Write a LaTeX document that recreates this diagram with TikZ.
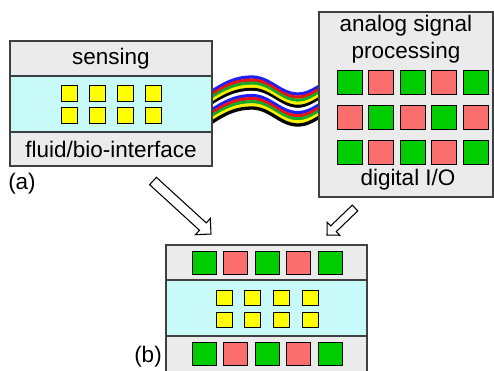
\documentclass[tikz,border=0pt]{standalone}
\usepackage{fontspec}
\setmainfont{Liberation Sans}
\usetikzlibrary{calc}

\definecolor{bandgray}{RGB}{235,235,235}
\definecolor{bandcyan}{RGB}{200,250,250}
\definecolor{padgreen}{RGB}{0,205,0}
\definecolor{padred}{RGB}{250,110,110}
\definecolor{padyellow}{RGB}{255,255,0}
\definecolor{wireblue}{RGB}{30,30,245}
\definecolor{wirered}{RGB}{235,20,20}
\definecolor{wiregreen}{RGB}{20,170,40}
\definecolor{wireyellow}{RGB}{250,240,0}

\tikzset{
  band/.style={draw=black!75, line width=0.6pt},
  pad/.style={draw=black, line width=0.5pt},
  boxtext/.style={font=\fontsize{12.8}{15.3}\selectfont, inner sep=0pt, align=center},
}

% hollow arrow: tail, tip, half shaft width, half head width
\newcommand{\hollowarrow}[4]{%
  \coordinate (hb) at ($(#2)!#4!(#1)$);
  \draw[black, line width=0.6pt, fill=white, line join=miter]
    ($(#1)!#3!90:(#2)$) -- ($(hb)!#3!90:(#2)$) -- ($(hb)!#4!90:(#2)$) -- (#2)
    -- ($(hb)!#4!-90:(#2)$) -- ($(hb)!#3!-90:(#2)$) -- ($(#1)!#3!-90:(#2)$) -- cycle;}

\begin{document}
\begin{tikzpicture}[x=0.02cm, y=-0.02cm]
  \useasboundingbox (0,0) rectangle (494,370);

  % wire bundle
  \foreach \c [count=\i from 0] in {wireblue,wirered,wiregreen,wireyellow,black,white,wireblue,wirered,wiregreen,wireyellow,black}
    \draw[\c, line width=0.66mm, shift={(0,\i*3.1)}]
      (205,96) .. controls (226,81) and (238,77) .. (252,77)
      .. controls (270,77) and (280,94) .. (298,94)
      .. controls (308,94) and (316,88) .. (326,82);

  % (a) sensing die
  \draw[band, fill=bandgray] (10,41) rectangle (212,76);
  \draw[band, fill=bandcyan] (10,76) rectangle (212,132);
  \draw[band, fill=bandgray] (10,132) rectangle (212,166);
  \foreach \x in {61,89,117,145}
    \foreach \y in {85,107}
      \draw[pad, fill=padyellow] (\x,\y) rectangle ++(16,16);
  \node[boxtext] (sensing) at (111,59) {sensing};
  \node[boxtext] (fluid) at (111,149) {fluid/bio-interface};
  \node[boxtext] (alabel) at (22,184) {(a)};

  % processing die
  \draw[band, fill=bandgray] (319,12) rectangle (493,197);
  \node[boxtext] (analog) at (406,39) {analog signal\\processing};
  \foreach \x/\ca/\cb in {337/padgreen/padred, 368.5/padred/padgreen, 400/padgreen/padred, 431.5/padred/padgreen, 463/padgreen/padred} {
    \draw[pad, fill=\ca] (\x,70) rectangle ++(25,24);
    \draw[pad, fill=\cb] (\x,105) rectangle ++(25,24);
    \draw[pad, fill=\ca] (\x,140) rectangle ++(25,24);
  }
  \node[boxtext] (digital) at (408,180) {digital I/O};

  % (b) integrated die
  \draw[band, fill=bandgray] (166,245) rectangle (367,280);
  \draw[band, fill=bandcyan] (166,280) rectangle (367,336);
  \draw[band, fill=bandgray] (166,336) rectangle (367,376);
  \foreach \x/\c in {192/padgreen, 223.5/padred, 255/padgreen, 286.5/padred, 318/padgreen} {
    \draw[pad, fill=\c] (\x,251) rectangle ++(24,23);
    \draw[pad, fill=\c] (\x,342) rectangle ++(24,23);
  }
  \foreach \x in {216,244.7,273.3,302}
    \foreach \y in {290,312}
      \draw[pad, fill=padyellow] (\x,\y) rectangle ++(16,15);
  \node[boxtext] (blabel) at (148,357) {(b)};

  % arrows
  \coordinate (atail) at (153,181);
  \coordinate (atip) at (211,234);
  \coordinate (btail) at (355,208);
  \coordinate (btip) at (327,235);
  \hollowarrow{atail}{atip}{1mm}{2.2mm}
  \hollowarrow{btail}{btip}{0.8mm}{1.8mm}
\end{tikzpicture}
\end{document}
